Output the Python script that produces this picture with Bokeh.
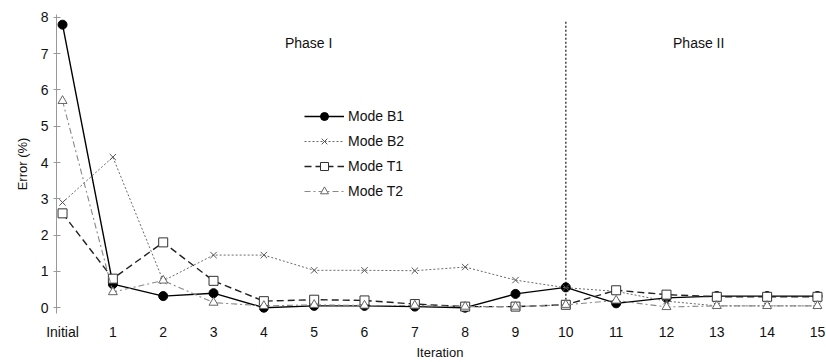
from bokeh.plotting import figure
from bokeh.models import Range1d, FixedTicker, Label, Legend, LegendItem
from bokeh.embed import file_html
from bokeh.resources import INLINE

iterations = ["Initial", "1", "2", "3", "4", "5", "6", "7", "8", "9", "10", "11", "12", "13", "14", "15"]
mode_b1 = [7.8, 0.65, 0.32, 0.40, 0.00, 0.05, 0.05, 0.03, 0.00, 0.38, 0.56, 0.12, 0.27, 0.32, 0.32, 0.32]
mode_b2 = [2.9, 4.15, 0.74, 1.45, 1.45, 1.03, 1.03, 1.02, 1.12, 0.76, 0.55, 0.45, 0.18, 0.05, 0.05, 0.05]
mode_t1 = [2.6, 0.80, 1.80, 0.74, 0.18, 0.22, 0.20, 0.10, 0.03, 0.03, 0.08, 0.48, 0.36, 0.30, 0.30, 0.30]
mode_t2 = [5.7, 0.43, 0.75, 0.14, 0.05, 0.08, 0.06, 0.06, 0.03, 0.03, 0.08, 0.20, 0.02, 0.05, 0.05, 0.05]
phase_boundary = 10
y_ticks = [0, 1, 2, 3, 4, 5, 6, 7, 8]

xs = list(range(len(iterations)))
FONT = "Liberation Sans"

p = figure(width=826, height=362, output_backend="svg", toolbar_location=None,
           x_range=Range1d(-0.12, 15.12), y_range=Range1d(-0.16, 8.08),
           min_border_left=56, min_border_right=3, min_border_top=14, min_border_bottom=46)
p.outline_line_color = None
p.xgrid.visible = False
p.ygrid.visible = False
p.background_fill_color = "white"
p.border_fill_color = "white"

# axes
p.xaxis.ticker = FixedTicker(ticks=xs)
p.xaxis.major_label_overrides = {i: lab for i, lab in enumerate(iterations)}
p.xaxis.axis_line_color = None
p.xaxis.major_tick_line_color = None
p.xaxis.major_tick_in = 0
p.xaxis.major_tick_out = 0
p.xaxis.minor_tick_line_color = None
p.xaxis.minor_tick_in = 0
p.xaxis.minor_tick_out = 0
p.xaxis.major_label_standoff = 10
p.xaxis.axis_label = "Iteration"
p.xaxis.axis_label_standoff = 2
p.xaxis.axis_label_text_font_style = "normal"
p.xaxis.axis_label_text_font = FONT
p.xaxis.axis_label_text_font_size = "13px"
p.xaxis.axis_label_text_color = "#111111"
p.xaxis.major_label_text_font = FONT
p.xaxis.major_label_text_font_size = "14px"
p.xaxis.major_label_text_color = "#111111"

p.yaxis.ticker = FixedTicker(ticks=y_ticks)
p.yaxis.axis_line_color = "#999999"
p.yaxis.major_tick_line_color = "#999999"
p.yaxis.major_tick_in = 4
p.yaxis.major_tick_out = 3
p.yaxis.minor_tick_line_color = None
p.yaxis.minor_tick_in = 0
p.yaxis.minor_tick_out = 0
p.yaxis.major_label_standoff = 5
p.yaxis.major_label_text_font = FONT
p.yaxis.major_label_text_font_size = "14px"
p.yaxis.major_label_text_color = "#111111"
p.yaxis.axis_label = "Error (%)"
p.yaxis.axis_label_standoff = 8
p.yaxis.axis_label_text_font_style = "normal"
p.yaxis.axis_label_text_font = FONT
p.yaxis.axis_label_text_font_size = "13px"
p.yaxis.axis_label_text_color = "#111111"

# phase boundary
p.segment(x0=[phase_boundary], y0=[0], x1=[phase_boundary], y1=[7.9],
          line_color="#444444", line_width=1.5, line_dash="2 2")

# series
l1 = p.line(xs, mode_b1, line_color="#000000", line_width=1.4)
s1 = p.scatter(xs, mode_b1, marker="circle", size=9, fill_color="#000000", line_color="#000000")

l2 = p.line(xs, mode_b2, line_color="#6a6a6a", line_width=1, line_dash="2 2")
s2 = p.scatter(xs, mode_b2, marker="x", size=9, line_color="#555555", line_width=1)

l3 = p.line(xs, mode_t1, line_color="#222222", line_width=1.4, line_dash="7 4")
s3 = p.scatter(xs, mode_t1, marker="square", size=9, fill_color="white", line_color="#333333", line_width=1)

l4 = p.line(xs, mode_t2, line_color="#888888", line_width=1.1, line_dash="6 3 2 3")
s4 = p.scatter(xs, mode_t2, marker="triangle", size=9, fill_color="white", line_color="#666666", line_width=1)

legend = Legend(items=[
    LegendItem(label="Mode B1", renderers=[l1, s1]),
    LegendItem(label="Mode B2", renderers=[l2, s2]),
    LegendItem(label="Mode T1", renderers=[l3, s3]),
    LegendItem(label="Mode T2", renderers=[l4, s4]),
], location=(248, 112))
legend.glyph_width = 40
legend.glyph_height = 20
legend.spacing = 5
legend.padding = 0
legend.margin = 0
legend.label_standoff = 4
legend.border_line_color = None
legend.background_fill_alpha = 0
legend.label_text_font = FONT
legend.label_text_font_size = "14px"
legend.label_text_color = "#111111"
p.add_layout(legend)

p.add_layout(Label(x=4.89, y=7.3, text="Phase I", text_align="center", text_baseline="middle",
                   text_font=FONT, text_font_size="14px", text_color="#111111"))
p.add_layout(Label(x=12.64, y=7.3, text="Phase II", text_align="center", text_baseline="middle",
                   text_font=FONT, text_font_size="14px", text_color="#111111"))

open("out.html", "w").write(file_html(p, INLINE))
